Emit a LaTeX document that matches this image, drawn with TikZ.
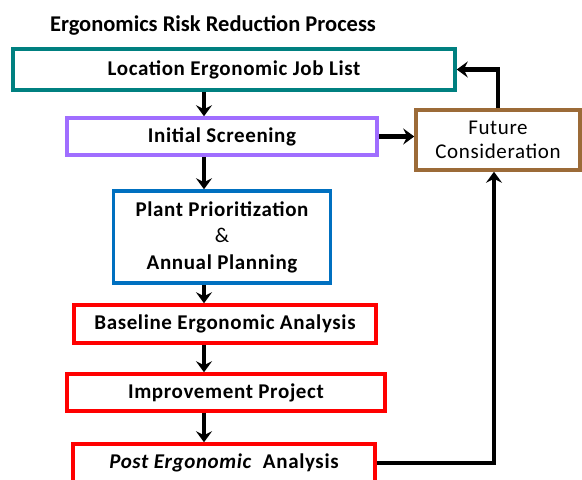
\documentclass[tikz,border=0pt]{standalone}
\usepackage{fontspec}
\setmainfont{Carlito}
\newfontfamily\wideface[LetterSpace=3]{Carlito}
\usepackage{tikz}
\usepackage[dvipsnames]{xcolor}
\usetikzlibrary{arrows.meta}

\definecolor{locteal}{RGB}{0,128,128}
\definecolor{screenpurple}{RGB}{160,110,255}
\definecolor{plantblue}{RGB}{0,112,192}
\definecolor{stepred}{RGB}{255,0,0}
\definecolor{futurebrown}{RGB}{156,107,56}

\tikzset{
  procbox/.style={draw, rectangle, line width=3.5pt, fill=white, inner sep=0pt,
    font=\wideface\fontsize{21}{26.5}\selectfont\bfseries, align=center},
  flow/.style={line width=4.5pt, -{Stealth[length=11pt,width=16pt,inset=4pt]}},
}

\begin{document}
\begin{tikzpicture}[x=1pt,y=-1pt]

          \useasboundingbox (0,0) rectangle (582,480);

          % Title
          \node (title) at (213,25) {\fontsize{22.5}{26}\selectfont\bfseries Ergonomics Risk Reduction Process};

          % Main column of steps
          \node[procbox, draw=locteal, minimum width=442pt, minimum height=41pt] (loc) at (234,69.5) {Location Ergonomic Job List};
          \node[procbox, draw=screenpurple, minimum width=310pt, minimum height=37pt] (screen) at (222,136.5) {Initial Screening};
          \node[procbox, draw=plantblue, minimum width=217pt, minimum height=92pt] (plant) at (222,237) {Plant Prioritization\\{\mdseries\&}\\Annual Planning};
          \node[procbox, draw=stepred, minimum width=302pt, minimum height=38pt] (base) at (225,324) {Baseline Ergonomic Analysis};
          \node[procbox, draw=stepred, minimum width=318pt, minimum height=37pt] (impr) at (226,392.5) {Improvement Project};
          \node[procbox, draw=stepred, minimum width=302pt, minimum height=38pt] (post) at (224,463) {\textit{Post Ergonomic}\ \ Analysis};

          % Side box
          \node[procbox, draw=futurebrown, minimum width=164pt, minimum height=60pt, font=\wideface\fontsize{21}{24}\selectfont] (future) at (498,140) {Future\\Consideration};

          % Arrows down the column
          \coordinate (col) at (204,0);
          \draw[flow] (loc.south -| col) -- (screen.north -| col);
          \draw[flow] (screen.south -| col) -- (plant.north -| col);
          \draw[flow] (plant.south -| col) -- (base.north -| col);
          \draw[flow] (base.south -| col) -- (impr.north -| col);
          \draw[flow] (impr.south -| col) -- (post.north -| col);

          % Loop through future consideration
          \draw[flow] (screen.east) -- (screen.east -| future.west);
          \draw[flow] (future.north) |- (loc.east);
          \draw[flow] (post.east) -| ([xshift=-4pt]future.south);

\end{tikzpicture}
\end{document}
